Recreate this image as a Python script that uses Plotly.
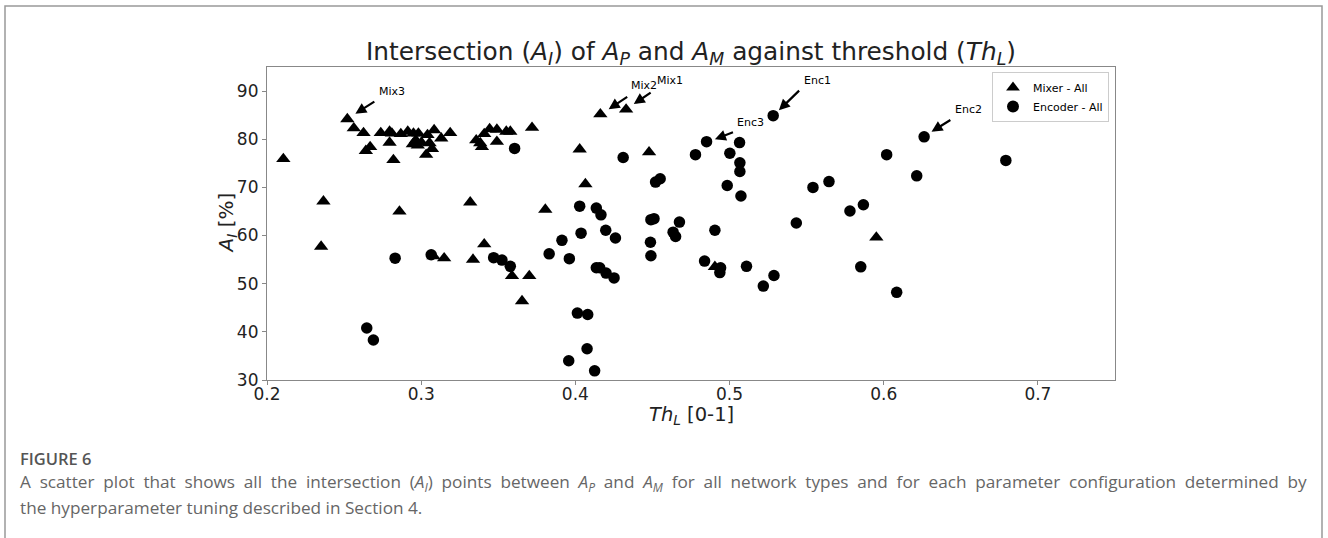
import plotly.graph_objects as go

# ---- data ----
mixer_x = [0.2106, 0.2521, 0.2563, 0.2626, 0.2641, 0.2669, 0.2738, 0.2795, 0.2810, 0.2795,
           0.2820, 0.2868, 0.2913, 0.2950, 0.2982, 0.2946, 0.2965, 0.2978, 0.3002, 0.3041,
           0.3032, 0.3054, 0.3070, 0.3084, 0.3130, 0.3188, 0.3357, 0.3383, 0.3394, 0.3409,
           0.3444, 0.3491, 0.3491, 0.3552, 0.3578, 0.3719,
           0.2366, 0.2351, 0.2859, 0.3318, 0.3149, 0.3336, 0.3409, 0.3589, 0.3701, 0.3654,
           0.3080, 0.3805, 0.4065, 0.4028, 0.4478, 0.4905, 0.4162, 0.4329, 0.5952]
mixer_y = [75.9, 84.2, 82.3, 81.3, 77.6, 78.4, 81.3, 81.6, 81.2, 79.3,
           75.7, 81.1, 81.6, 81.2, 81.2, 79.0, 79.8, 78.7, 79.3, 80.9,
           76.8, 79.2, 78.0, 81.9, 80.2, 81.3, 79.8, 79.2, 78.4, 81.1,
           82.1, 82.0, 79.5, 81.6, 81.6, 82.4,
           67.1, 57.7, 65.0, 66.9, 55.3, 55.0, 58.2, 51.6, 51.6, 46.4,
           55.7, 65.4, 70.7, 77.9, 77.3, 53.5, 85.2, 86.2, 59.6]

encoder_x = [0.2647, 0.2690, 0.2831, 0.3065, 0.3470, 0.3524, 0.3578, 0.3606,
             0.3830, 0.3913, 0.3961, 0.3957, 0.4013, 0.4080, 0.4076, 0.4125,
             0.4028, 0.4037, 0.4136, 0.4166, 0.4197, 0.4260, 0.4136, 0.4158, 0.4199, 0.4251,
             0.4310, 0.4490, 0.4510, 0.4520, 0.4550, 0.4487, 0.4490, 0.4634, 0.4650, 0.4675,
             0.4779, 0.4851, 0.5002, 0.5065, 0.5067, 0.5067, 0.4985, 0.5074,
             0.4905, 0.4838, 0.4942, 0.4937, 0.5110, 0.5219, 0.5288,
             0.5283, 0.5433, 0.5541, 0.5645, 0.5781, 0.5868, 0.5851, 0.6019, 0.6084,
             0.6214, 0.6262, 0.6792]
encoder_y = [40.8, 38.3, 55.3, 56.0, 55.4, 54.9, 53.6, 78.1,
             56.2, 59.0, 55.2, 34.0, 43.9, 43.6, 36.5, 31.9,
             66.1, 60.5, 65.7, 64.3, 61.1, 59.5, 53.3, 53.3, 52.2, 51.2,
             76.2, 63.3, 63.5, 71.1, 71.8, 58.6, 55.8, 60.7, 59.8, 62.8,
             76.8, 79.5, 77.1, 79.3, 75.1, 73.3, 70.4, 68.2,
             61.1, 54.7, 53.3, 52.3, 53.6, 49.5, 51.7,
             84.9, 62.6, 70.0, 71.2, 65.1, 66.4, 53.5, 76.8, 48.2,
             72.4, 80.5, 75.6]

x_ticks = [0.2, 0.3, 0.4, 0.5, 0.6, 0.7]
y_ticks = [30, 40, 50, 60, 70, 80, 90]

# labelled points: name, text position, arrow tail, arrow head
label_names = ["Mix3", "Mix2", "Mix1", "Enc1", "Enc3", "Enc2"]
label_text_x = [0.281, 0.4444, 0.4617, 0.5569, 0.5136, 0.6548]
label_text_y = [90.0, 91.1, 92.1, 92.3, 83.5, 86.2]
arrow_tail_x = [0.2706, 0.4346, 0.4498, 0.5461, 0.5032, 0.6442]
arrow_tail_y = [88.0, 89.0, 89.9, 90.4, 81.55, 84.2]
arrow_head_x = [0.2573, 0.4216, 0.4379, 0.5320, 0.4905, 0.6310]
arrow_head_y = [85.3, 86.25, 87.3, 86.0, 80.0, 81.55]

W, H = 1328, 538
PL, PR, PT, PB = 267, 1115, 67, 380

fig = go.Figure()
fig.add_trace(go.Scatter(x=mixer_x, y=mixer_y, mode="markers", name="Mixer - All",
                         marker=dict(symbol="triangle-up", size=12.5, color="black")))
fig.add_trace(go.Scatter(x=encoder_x, y=encoder_y, mode="markers", name="Encoder - All",
                         marker=dict(symbol="circle", size=11.5, color="black")))

annotations = []
for n, tx, ty, ax_, ay_, hx, hy in zip(label_names, label_text_x, label_text_y,
                                        arrow_tail_x, arrow_tail_y, arrow_head_x, arrow_head_y):
    annotations.append(dict(x=tx, y=ty, xref="x", yref="y", text=n, showarrow=False,
                            font=dict(family="DejaVu Sans", size=11, color="black")))
    annotations.append(dict(x=hx, y=hy, xref="x", yref="y", ax=ax_, ay=ay_, axref="x", ayref="y",
                            text="", showarrow=True, arrowhead=2, arrowsize=1, arrowwidth=2.2,
                            arrowcolor="black"))

# axis titles
annotations.append(dict(x=(PL + PR) / 2 / W, y=1 - 415 / H, xref="paper", yref="paper",
                        xanchor="center", yanchor="middle", showarrow=False,
                        text="<i>Th<sub>L</sub></i> [0-1]",
                        font=dict(family="DejaVu Sans", size=19.5, color="#222222")))
annotations.append(dict(x=226 / W, y=1 - (PT + PB) / 2 / H, xref="paper", yref="paper",
                        xanchor="center", yanchor="middle", showarrow=False, textangle=-90,
                        text="<i>A<sub>I</sub></i> [%]",
                        font=dict(family="DejaVu Sans", size=20, color="#222222")))

# caption (first line justified to the full width -> widened word gaps)
cap_font = "Open Sans"
gap = " \u2005"
caption_line1 = ("A scatter plot that shows all the intersection (<i>A<sub>I</sub></i>) points between "
                 "<i>A<sub>P</sub></i> and <i>A<sub>M</sub></i> for all network types and for each "
                 "parameter configuration determined by").replace(" ", gap)
caption_line2 = "the hyperparameter tuning described in Section 4."
annotations.append(dict(x=18 / W, y=1 - 458 / H, xref="paper", yref="paper", xanchor="left",
                        yanchor="middle", showarrow=False, text="FIGURE 6",
                        font=dict(family=cap_font, size=16.5, color="#555555", weight=600)))
annotations.append(dict(x=18 / W, y=1 - 483 / H, xref="paper", yref="paper", xanchor="left",
                        yanchor="middle", showarrow=False, text=caption_line1,
                        font=dict(family=cap_font, size=17.2, color="#666666")))
annotations.append(dict(x=18 / W, y=1 - 507 / H, xref="paper", yref="paper", xanchor="left",
                        yanchor="middle", showarrow=False, text=caption_line2,
                        font=dict(family=cap_font, size=17.2, color="#666666")))

axis_common = dict(showgrid=False, zeroline=False, showline=True, linecolor="#888888",
                   linewidth=1.2, mirror=True, ticks="outside", ticklen=4, tickcolor="#888888",
                   automargin=False,
                   tickfont=dict(family="DejaVu Sans", size=17, color="#222222"))

fig.update_layout(
    width=W, height=H,
    margin=dict(l=0, r=0, t=0, b=0, autoexpand=False),
    paper_bgcolor="white", plot_bgcolor="white",
    title=dict(text="Intersection (<i>A<sub>I</sub></i>) of <i>A<sub>P</sub></i> and "
                    "<i>A<sub>M</sub></i> against threshold (<i>Th<sub>L</sub></i>)",
               x=(PL + PR) / 2 / W, xanchor="center", y=1 - 51 / H, yanchor="middle",
               font=dict(family="DejaVu Sans", size=24.8, color="#222222")),
    xaxis=dict(domain=[PL / W, PR / W], range=[0.2, 0.75], tickvals=x_ticks,
               ticktext=[str(v) for v in x_ticks], ticklabelstandoff=-6, **axis_common),
    yaxis=dict(domain=[1 - PB / H, 1 - PT / H], range=[30, 95], tickvals=y_ticks,
               **axis_common),
    legend=dict(x=1109 / W, xanchor="right", y=1 - 72 / H, yanchor="top",
                bordercolor="#cccccc", borderwidth=1, bgcolor="white",
                font=dict(family="DejaVu Sans", size=11, color="black"),
                itemsizing="constant", tracegroupgap=0),
    annotations=annotations,
    shapes=[dict(type="rect", xref="paper", yref="paper", x0=5 / W, x1=1322 / W,
                 y0=-0.1, y1=1 - 6 / H, line=dict(color="#999999", width=1.5))],
    showlegend=True,
)

fig.write_html("out.html")
